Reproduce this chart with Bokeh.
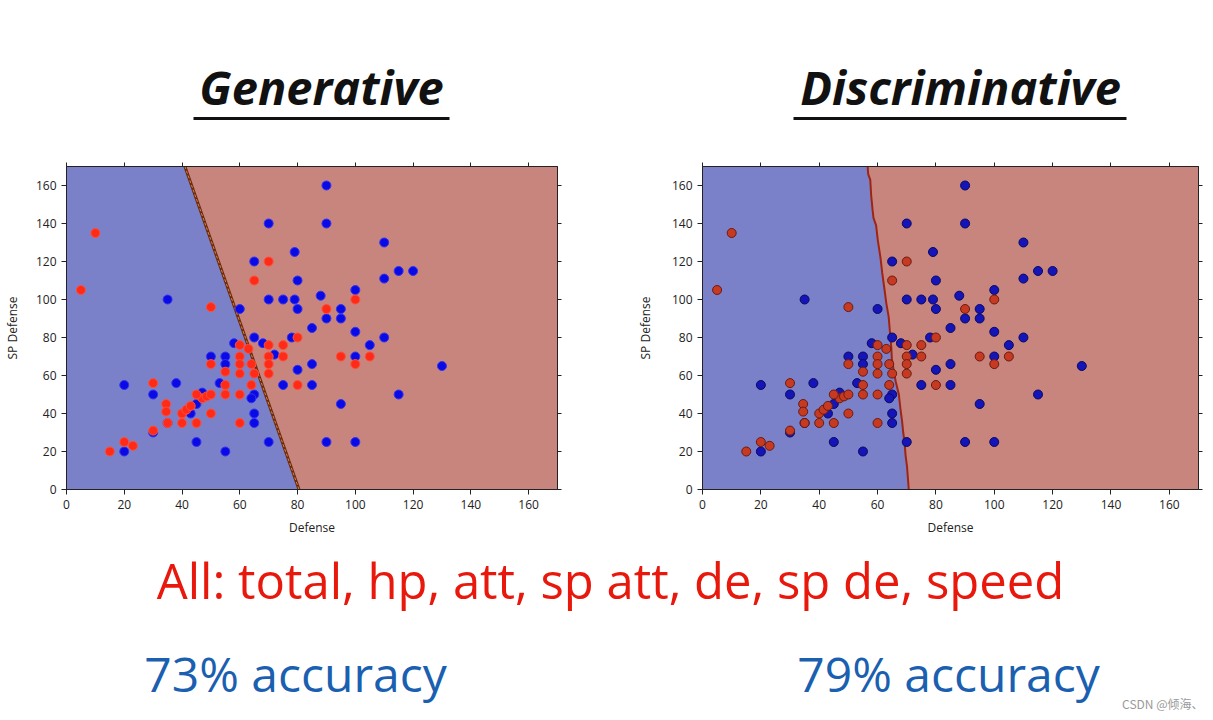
from bokeh.plotting import figure
from bokeh.layouts import column, row
from bokeh.models import LinearAxis, FixedTicker, Range1d
from bokeh.core.properties import value
from bokeh.embed import file_html
from bokeh.resources import INLINE

# ---------------- data ----------------
blue_x = [35, 60, 65, 70, 70, 75, 79, 79, 80, 80, 90, 90, 88, 85, 90, 95, 95, 100, 100, 110,
          105, 110, 110, 115, 120, 65, 78, 68, 72, 58,
          80, 85, 75, 85, 100, 130, 115, 95, 90, 100, 70,
          50, 55, 55, 53, 65, 64, 65, 65, 55, 45, 47, 45, 43, 38, 35, 30, 30, 20, 20]
blue_y = [100, 95, 120, 140, 100, 100, 125, 100, 110, 95, 160, 140, 102, 85, 90, 95, 90, 105, 83, 80,
          76, 130, 111, 115, 115, 80, 80, 77, 71, 77,
          63, 66, 55, 55, 70, 65, 50, 45, 25, 25, 25,
          70, 70, 66, 56, 50, 48, 40, 35, 20, 25, 51, 45, 40, 56, 35, 50, 30, 55, 20]
red_x = [10, 5, 50, 65, 70, 90, 100, 80, 70, 75, 63, 60, 95, 100, 105, 80, 75, 70, 70, 70,
         60, 60, 60, 60, 60, 64, 65, 64, 55, 55, 55, 50, 50, 47, 48.5, 50, 45, 45, 40, 41.5,
         43, 40, 34.5, 34.5, 35, 30, 30, 20, 23, 15]
red_y = [135, 105, 96, 110, 120, 95, 100, 80, 76, 76, 74, 76, 70, 66, 70, 55, 70, 70, 66, 61,
         70, 66, 61, 50, 35, 66, 61, 55, 62, 55, 50, 66, 40, 48, 49, 50, 50, 35, 40, 42,
         44, 35, 45, 41, 35, 56, 31, 25, 23, 20]

gen_boundary_x = [80.5, 41.0]
gen_boundary_y = [0, 170]
dis_boundary_x = [70.7, 70.4, 70.1, 69.6, 69.3, 68.8, 68.4, 67.8, 67.3, 66.2, 65.5, 64.9, 64.7,
                  64.4, 63.8, 63.0, 62.4, 61.6, 61.0, 60.1, 59.5, 58.6, 58.3, 57.8, 57.5, 56.8, 56.6]
dis_boundary_y = [0, 6, 12, 18, 24, 30, 36, 43, 50, 57, 63, 69, 75, 80, 91, 98, 105, 114, 122,
                  131, 139, 143, 147, 155, 163, 166, 170]

ticks = [0, 20, 40, 60, 80, 100, 120, 140, 160]
axis_min, axis_max = 0, 170

titles = ["Generative", "Discriminative"]
features_text = "All: total, hp, att, sp att, de, sp de, speed"
accuracy_text = ["73% accuracy", "79% accuracy"]
watermark = "CSDN @倾海、"

BLUE_BG = "#7b81c8"
RED_BG = "#c8857e"
TICK_FONT = "Open Sans"


def style_axes(p, ylabel_standoff):
    p.xgrid.visible = False
    p.ygrid.visible = False
    p.outline_line_color = "#222222"
    for ax in p.xaxis + p.yaxis:
        ax.ticker = FixedTicker(ticks=ticks)
        ax.major_tick_out = 5
        ax.major_tick_in = 0
        ax.minor_tick_line_color = None
        ax.axis_line_color = "#222222"
        ax.major_tick_line_color = "#222222"
        ax.major_label_text_font = TICK_FONT
        ax.major_label_text_font_size = "12px"
        ax.major_label_text_color = "#222222"
        ax.axis_label_text_font = TICK_FONT
        ax.axis_label_text_font_size = "12px"
        ax.axis_label_text_font_style = "normal"
        ax.axis_label_text_color = "#222222"
        ax.major_label_standoff = 5
        ax.axis_label_standoff = 7
    p.yaxis.axis_label_standoff = ylabel_standoff
    for place in ("right", "above"):
        ax = LinearAxis(ticker=FixedTicker(ticks=ticks), major_tick_out=4, major_tick_in=0,
                        minor_tick_line_color=None, major_label_text_font_size="0px",
                        major_label_text_color=None, major_label_text_alpha=0,
                        major_label_standoff=0, axis_line_color="#222222",
                        major_tick_line_color="#222222")
        p.add_layout(ax, place)


def make_scatter(width, height, bl, br, bt, bb, bx, by, blue_style, red_style, line_style,
                 ylabel_standoff):
    p = figure(width=width, height=height, x_range=Range1d(axis_min, axis_max),
               y_range=Range1d(axis_min, axis_max), toolbar_location=None,
               output_backend="svg", min_border_left=bl, min_border_right=br,
               min_border_top=bt, min_border_bottom=bb,
               x_axis_label="Defense", y_axis_label="SP Defense")
    p.background_fill_color = "white"
    left_x = list(bx) + [axis_min, axis_min]
    left_y = list(by) + [by[-1], by[0]]
    right_x = list(bx) + [axis_max, axis_max]
    right_y = list(by) + [by[-1], by[0]]
    p.patch(left_x, left_y, fill_color=BLUE_BG, line_color=None)
    p.patch(right_x, right_y, fill_color=RED_BG, line_color=None)
    for st in line_style:
        p.line(bx, by, **st)
    p.scatter(blue_x, blue_y, size=9, **blue_style)
    p.scatter(red_x, red_y, size=9, **red_style)
    style_axes(p, ylabel_standoff)
    return p


p1 = make_scatter(600, 395, 66, 43, 13, 56, gen_boundary_x, gen_boundary_y,
                  dict(fill_color="#0a0ae6", line_color="#3434f0", line_width=1),
                  dict(fill_color="#ff2a18", line_color="#ff5038", line_width=1),
                  [dict(line_color="#6a2a10", line_width=3),
                   dict(line_color="#d8803a", line_width=1, line_dash="3 2")], 12)
p2 = make_scatter(605, 395, 102, 7, 16, 49, dis_boundary_x, dis_boundary_y,
                  dict(fill_color="#1414b8", line_color="#0a0a60", line_width=1),
                  dict(fill_color="#c63a22", line_color="#6a1a10", line_width=1),
                  [dict(line_color="#a02412", line_width=2)], 15)

# ---------------- top band (titles) ----------------
W = 1205
top = figure(width=W, height=150, x_range=Range1d(0, W), y_range=Range1d(150, 0),
             toolbar_location=None, output_backend="svg", min_border=0)
top.axis.visible = False
top.grid.visible = False
top.outline_line_color = None
top.text(x=[321, 960], y=[86, 86], text=titles, text_font=value("Open Sans"),
         text_font_style="bold italic", text_font_size="47px", text_color="#111111",
         text_align="center", text_baseline="middle")
top.segment(x0=[193, 793], y0=[118, 118], x1=[449, 1126], y1=[118, 118],
            line_color="#111111", line_width=3)

# ---------------- bottom band ----------------
bot = figure(width=W, height=167, x_range=Range1d(0, W), y_range=Range1d(167, 0),
             toolbar_location=None, output_backend="svg", min_border=0)
bot.axis.visible = False
bot.grid.visible = False
bot.outline_line_color = None
bot.text(x=[610], y=[34], text=[features_text], text_font=value("Open Sans"),
         text_font_size="49px", text_color="#e8180c", text_align="center",
         text_baseline="middle")
bot.text(x=[295, 948], y=[128, 128], text=accuracy_text, text_font=value("Open Sans"),
         text_font_size="48px", text_color="#1a5fb0", text_align="center",
         text_baseline="middle")
bot.text(x=[1203], y=[158], text=[watermark], text_font=value("Noto Sans CJK SC"),
         text_font_size="12px", text_color="#9a9a9a", text_align="right",
         text_baseline="middle")

layout = column(top, row(p1, p2), bot)
open("out.html", "w").write(file_html(layout, INLINE))
